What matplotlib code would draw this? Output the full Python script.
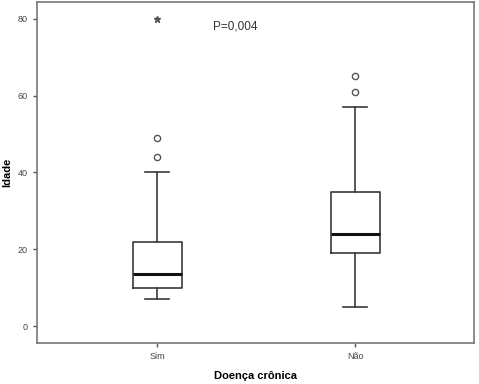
import matplotlib
matplotlib.use("Agg")
import matplotlib.pyplot as plt

plt.rcParams['font.family'] = ['Liberation Sans', 'DejaVu Sans']

# Doença crônica groups
categories = ['Sim', 'Não']
whislo = [7, 5]
q1 = [10, 19]
med = [13.5, 24]
q3 = [22, 35]
whishi = [40, 57]
outliers = [[44, 49], [61, 65]]
extremes = [[80], []]

stats = []
for i, name in enumerate(categories):
    stats.append(dict(label=name, whislo=whislo[i], q1=q1[i], med=med[i],
                      q3=q3[i], whishi=whishi[i], fliers=outliers[i]))

fig = plt.figure(figsize=(4.79, 3.84), dpi=100)
ax = fig.add_axes([0.0772, 0.1068, 0.912, 0.888])

line_col = '#3a3a3a'
ax.bxp(stats, positions=[1, 2], widths=0.247, showfliers=True,
       boxprops=dict(color=line_col, linewidth=1.2),
       whiskerprops=dict(color=line_col, linewidth=1.2),
       capprops=dict(color=line_col, linewidth=1.2),
       capwidths=0.123,
       medianprops=dict(color='#111111', linewidth=2.2),
       flierprops=dict(marker='o', markersize=4.5, markerfacecolor='white',
                       markeredgecolor='#555555', markeredgewidth=1.0))

for i, ext in enumerate(extremes):
    for v in ext:
        ax.plot(i + 1, v, marker='*', color='#555555', markersize=4.5, linestyle='none')

ax.text(1.282, 78, 'P=0,004', fontsize=8.5, color='#333333', va='center', ha='left')

ax.set_xlim(0.393, 2.6)
ax.set_ylim(-4.4, 84.4)
ax.set_yticks([0, 20, 40, 60, 80])
ax.set_xticks([1, 2])
ax.set_xticklabels(categories)
ax.tick_params(labelsize=6.5, labelcolor='#444444', color='#555555', length=3, width=1)
for s in ax.spines.values():
    s.set_color('#777777')
    s.set_linewidth(1.2)

ax.set_ylabel('Idade', fontsize=8, fontweight='bold', labelpad=4)
ax.set_xlabel('Doença crônica', fontsize=8, fontweight='bold', labelpad=7)

fig.savefig('out.png', dpi=100)
